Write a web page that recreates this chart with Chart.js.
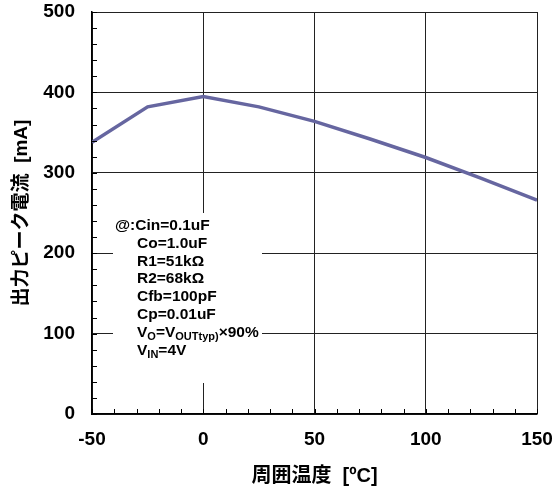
<!DOCTYPE html>
<html>
<head>
<meta charset="utf-8">
<script src="https://cdn.jsdelivr.net/npm/chart.js@4/dist/chart.umd.min.js"></script>
<style>
  html, body { margin: 0; padding: 0; background: #fff; }
  #wrap { width: 557px; height: 490px; }
</style>
</head>
<body>
<div id="wrap"><canvas id="chart"></canvas></div>
<script>
// Peak output current vs ambient temperature
const temps = [-50, -25, 0, 25, 50, 75, 100, 125, 150];
const peakCurrent = [338, 382, 395, 382, 364, 342, 319, 293, 266];

const xMajor = 50;   // labelled x ticks / grid lines
const xMinor = 10;   // small inward ticks
const yMajor = 100;
const yMinor = 20;

// Test conditions, each line as [text, subscript?] pieces
const conditions = [
    [['@:Cin=0.1uF']],
    [['Co=1.0uF']],
    [['R1=51kΩ']],
    [['R2=68kΩ']],
    [['Cfb=100pF']],
    [['Cp=0.01uF']],
    [['V'], ['O', true], ['=V'], ['OUTtyp)', true], ['×90%']],
    [['V'], ['IN', true], ['=4V']]
];

const FAMILY = "'Liberation Sans', Arial, 'Noto Sans CJK JP', sans-serif";

// Inward minor tick marks on both axes
const minorTicks = {
    id: 'minorTicks',
    afterDraw(chart) {
        const { ctx, chartArea, scales } = chart;
        ctx.save();
        ctx.strokeStyle = '#000';
        ctx.lineWidth = 1;
        ctx.beginPath();
        for (let v = scales.x.min; v <= scales.x.max; v += xMinor) {
            const px = Math.round(scales.x.getPixelForValue(v)) + 0.5;
            ctx.moveTo(px, chartArea.bottom);
            ctx.lineTo(px, chartArea.bottom - 5);
        }
        for (let v = scales.y.min; v <= scales.y.max; v += yMinor) {
            const py = Math.round(scales.y.getPixelForValue(v)) + 0.5;
            ctx.moveTo(chartArea.left, py);
            ctx.lineTo(chartArea.left + 5, py);
        }
        ctx.stroke();
        ctx.restore();
    }
};

// White box with the measurement conditions
const conditionBox = {
    id: 'conditionBox',
    beforeDatasetsDraw(chart) {
        const { ctx, chartArea } = chart;
        const left = chartArea.left + 21;
        const top = chartArea.top + 201;
        ctx.save();
        ctx.fillStyle = '#fff';
        ctx.fillRect(left, top, 149, 170);

        ctx.fillStyle = '#000';
        ctx.textBaseline = 'alphabetic';
        conditions.forEach((parts, i) => {
            let x = i === 0 ? left + 2 : left + 24;
            const y = top + 17 + i * 17.8;
            parts.forEach(([text, sub]) => {
                ctx.font = sub ? `bold 11px ${FAMILY}` : `bold 15.5px ${FAMILY}`;
                ctx.fillText(text, x, sub ? y + 3 : y);
                x += ctx.measureText(text).width;
            });
        });
        ctx.restore();
    }
};

const ctx = document.getElementById('chart').getContext('2d');
new Chart(ctx, {
    type: 'line',
    data: {
        datasets: [{
            data: temps.map((t, i) => ({ x: t, y: peakCurrent[i] })),
            borderColor: '#6666a0',
            borderWidth: 3.5,
            pointRadius: 0,
            tension: 0,
            fill: false
        }]
    },
    options: {
        responsive: true,
        maintainAspectRatio: false,
        animation: false,
        layout: { padding: { top: 12, right: 20, left: 0, bottom: 0 } },
        plugins: {
            legend: { display: false },
            tooltip: { enabled: false }
        },
        scales: {
            x: {
                type: 'linear',
                min: -50,
                max: 150,
                afterFit: scale => {
                    scale.height = 76;
                    scale.paddingLeft = 0;
                    scale.paddingRight = 0;
                },
                ticks: {
                    stepSize: xMinor,
                    autoSkip: false,
                    maxRotation: 0,
                    padding: 14,
                    color: '#000',
                    font: { family: FAMILY, size: 19, weight: 'bold' },
                    callback: v => (v % xMajor === 0 ? String(v) : '')
                },
                grid: {
                    drawTicks: false,
                    lineWidth: 1,
                    color: c => (c.tick && c.tick.value % xMajor === 0 ? '#222' : 'rgba(0,0,0,0)')
                },
                border: { display: true, color: '#000', width: 1.5 },
                title: {
                    display: true,
                    text: '周囲温度  [ºC]',
                    color: '#000',
                    font: { family: FAMILY, size: 20, weight: 'bold' },
                    padding: { top: 2, bottom: 2 }
                }
            },
            y: {
                min: 0,
                max: 500,
                afterFit: scale => {
                    scale.width = 92;
                    scale.paddingTop = 0;
                    scale.paddingBottom = 0;
                },
                ticks: {
                    stepSize: yMinor,
                    autoSkip: false,
                    padding: 17,
                    color: '#000',
                    font: { family: FAMILY, size: 19, weight: 'bold' },
                    callback: v => (v % yMajor === 0 ? String(v) : '')
                },
                grid: {
                    drawTicks: false,
                    lineWidth: 1,
                    color: c => (c.tick && c.tick.value % yMajor === 0 ? '#222' : 'rgba(0,0,0,0)')
                },
                border: { display: true, color: '#000', width: 1.5 },
                title: {
                    display: true,
                    text: '出力ピーク電流  [mA]',
                    color: '#000',
                    font: { family: FAMILY, size: 19, weight: 'bold' },
                    padding: { top: 10, bottom: 10 }
                }
            }
        }
    },
    plugins: [minorTicks, conditionBox]
});
</script>
</body>
</html>
